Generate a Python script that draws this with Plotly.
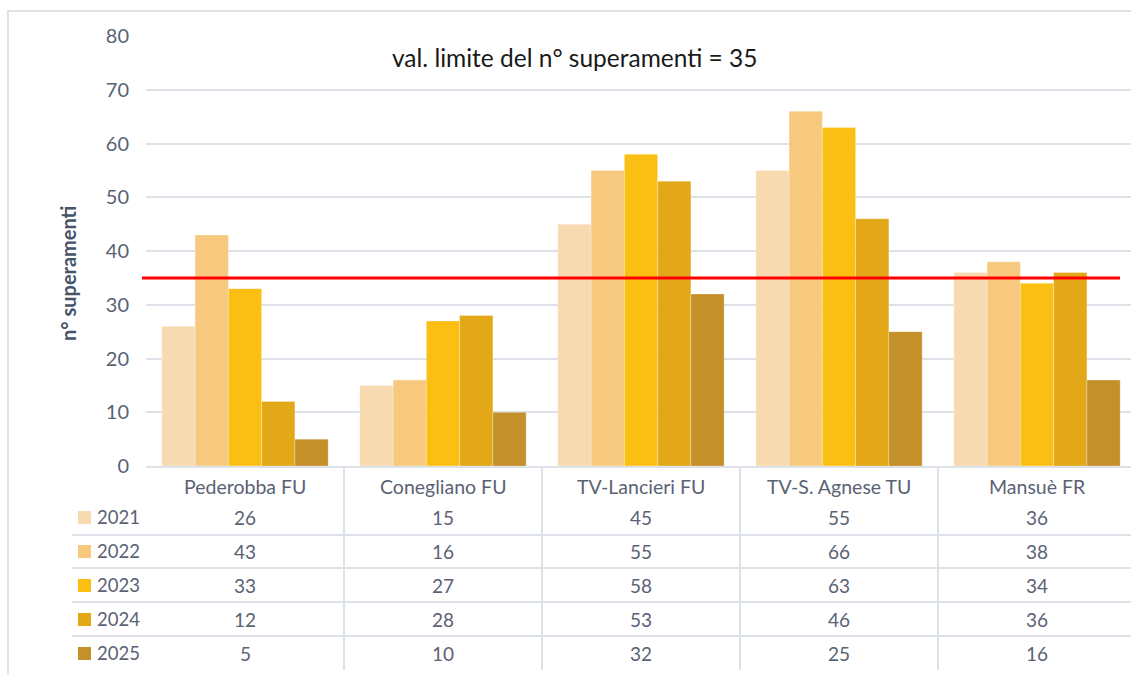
import plotly.graph_objects as go

categories = ["Pederobba FU", "Conegliano FU", "TV-Lancieri FU", "TV-S. Agnese TU", "Mansuè FR"]
years = ["2021", "2022", "2023", "2024", "2025"]
v2021 = [26, 15, 45, 55, 36]
v2022 = [43, 16, 55, 66, 38]
v2023 = [33, 27, 58, 63, 34]
v2024 = [12, 28, 53, 46, 36]
v2025 = [5, 10, 32, 25, 16]
series = [v2021, v2022, v2023, v2024, v2025]
limit_value = 35
title_text = "val. limite del n° superamenti = 35"
y_title = "n° superamenti"

colors = ["#f8dab0", "#f6c97e", "#fbbe12", "#e3a817", "#c4902a"]

W, H = 1131, 675
ML, MT, PW, PH = 146, 36, 985, 430


def px(x):
    return (x - ML) / PW


def py(y):
    return (MT + PH - y) / PH


FONT = "Lato, 'Open Sans', sans-serif"
TXT = "#5a6274"
GRID = "#dde1e8"

fig = go.Figure()
xs = list(range(len(categories)))
for yr, vals, col in zip(years, series, colors):
    fig.add_trace(go.Bar(x=xs, y=vals, name=yr,
                         marker=dict(color=col, line=dict(width=0.6, color="rgba(255,255,255,0.5)")),
                         showlegend=False, hoverinfo="skip"))

shapes = []
annotations = []

# outer frame
shapes.append(dict(type="rect", xref="paper", yref="paper", x0=px(8), x1=px(1140), y0=py(11), y1=py(690),
                   line=dict(color="#d9d9d9", width=1.5), fillcolor="rgba(0,0,0,0)", layer="below"))

# limit line
shapes.append(dict(type="line", xref="paper", yref="y", x0=px(142), x1=px(1120), y0=limit_value, y1=limit_value,
                   line=dict(color="#ff0000", width=3), layer="above"))

# table horizontal lines
row_centers = [517, 551, 585, 619, 653]
for yy in [535, 568, 602, 636]:
    shapes.append(dict(type="line", xref="paper", yref="paper", x0=px(72), x1=px(1135), y0=py(yy), y1=py(yy),
                       line=dict(color=GRID, width=2)))
# table vertical lines at category boundaries
for i in range(len(categories) - 1):
    shapes.append(dict(type="line", xref="x", yref="paper", x0=i + 0.5, x1=i + 0.5, y0=py(466), y1=py(670),
                       line=dict(color=GRID, width=2)))

# header labels
for i, c in enumerate(categories):
    annotations.append(dict(x=i, y=py(486), xref="x", yref="paper", text=c, showarrow=False,
                            font=dict(family=FONT, size=19.5, color=TXT), xanchor="center", yanchor="middle"))

# rows
for r, (yr, vals, col) in enumerate(zip(years, series, colors)):
    yc = row_centers[r]
    shapes.append(dict(type="rect", xref="paper", yref="paper", x0=px(78), x1=px(91), y0=py(yc - 6), y1=py(yc + 7),
                       fillcolor=col, line=dict(width=0)))
    annotations.append(dict(x=px(95), y=py(yc), xref="paper", yref="paper", text=yr, showarrow=False,
                            font=dict(family=FONT, size=18.5, color=TXT), xanchor="left", yanchor="middle"))
    for i, v in enumerate(vals):
        annotations.append(dict(x=i, y=py(yc), xref="x", yref="paper", text=str(v), showarrow=False,
                                font=dict(family=FONT, size=19, color=TXT), xanchor="center", yanchor="middle"))

# title
annotations.append(dict(x=px(575), y=py(57), xref="paper", yref="paper", text=title_text, showarrow=False,
                        font=dict(family=FONT, size=24.5, color="#1a1a1a"), xanchor="center", yanchor="middle"))
# y title
annotations.append(dict(x=px(68), y=py(274), xref="paper", yref="paper", text="<b>" + y_title + "</b>",
                        showarrow=False, textangle=-90, font=dict(family=FONT, size=20, color="#44546a"),
                        xanchor="center", yanchor="middle"))

fig.update_layout(
    width=W, height=H,
    margin=dict(l=ML, r=W - ML - PW, t=MT, b=H - MT - PH, pad=0),
    paper_bgcolor="white", plot_bgcolor="white",
    barmode="group", bargap=0.16, bargroupgap=0,
    shapes=shapes, annotations=annotations,
    font=dict(family=FONT, color=TXT),
    xaxis=dict(range=[-0.5, -0.5 + PW / 198], showticklabels=False, showgrid=False, zeroline=False,
               showline=True, linecolor=GRID, linewidth=2, ticks=""),
    yaxis=dict(range=[0, 80], dtick=10, showgrid=True, gridcolor=GRID, gridwidth=2, zeroline=False,
               showline=False, ticks="", ticklabelstandoff=16, tickfont=dict(family=FONT, size=20, color=TXT)),
)

fig.write_html("out.html", config={"displayModeBar": False},
               post_script="document.body.style.margin='0';document.body.style.overflow='hidden';")
